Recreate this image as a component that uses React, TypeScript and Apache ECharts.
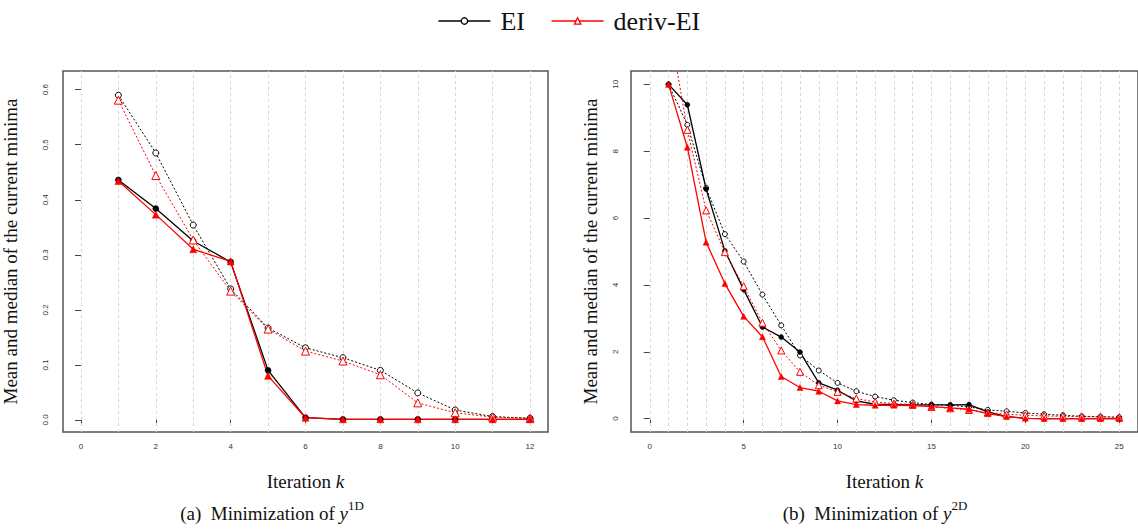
import React, { useEffect, useRef } from "react";
import * as echarts from "echarts";

// ---------- data ----------
const iter1D = [1, 2, 3, 4, 5, 6, 7, 8, 9, 10, 11, 12];
const eiMean1D = [0.59, 0.485, 0.354, 0.238, 0.167, 0.131, 0.113, 0.09, 0.049, 0.018, 0.006, 0.003];
const eiMedian1D = [0.436, 0.384, 0.325, 0.287, 0.09, 0.004, 0.001, 0.001, 0.001, 0.001, 0.001, 0.001];
const derivMean1D = [0.581, 0.444, 0.327, 0.234, 0.165, 0.125, 0.107, 0.082, 0.031, 0.013, 0.005, 0.003];
const derivMedian1D = [0.434, 0.373, 0.31, 0.288, 0.08, 0.004, 0.001, 0.001, 0.001, 0.001, 0.001, 0.001];

const iter2D = [1, 2, 3, 4, 5, 6, 7, 8, 9, 10, 11, 12, 13, 14, 15, 16, 17, 18, 19, 20, 21, 22, 23, 24, 25];
const eiMean2D = [10.0, 8.79, 6.9, 5.52, 4.7, 3.71, 2.79, 1.89, 1.44, 1.07, 0.82, 0.66, 0.55, 0.48, 0.42, 0.4, 0.35, 0.26, 0.22, 0.17, 0.13, 0.1, 0.07, 0.06, 0.04];
const eiMedian2D = [10.0, 9.39, 6.87, 5.02, 3.86, 2.74, 2.44, 1.99, 1.07, 0.85, 0.53, 0.43, 0.42, 0.41, 0.41, 0.41, 0.42, 0.2, 0.06, 0.01, 0, 0, 0, 0, 0];
const derivMean2D = [11.9, 8.64, 6.23, 4.98, 3.96, 2.87, 2.04, 1.4, 1.0, 0.8, 0.6, 0.5, 0.45, 0.42, 0.35, 0.31, 0.26, 0.18, 0.13, 0.1, 0.08, 0.07, 0.06, 0.05, 0.04];
const derivMedian2D = [10.0, 8.12, 5.28, 4.04, 3.06, 2.45, 1.26, 0.93, 0.82, 0.53, 0.42, 0.4, 0.4, 0.39, 0.36, 0.32, 0.28, 0.15, 0.06, 0.01, 0, 0, 0, 0, 0];

const xTicks1D = [0, 2, 4, 6, 8, 10, 12];
const xGrid1D = [0, 1, 2, 3, 4, 5, 6, 7, 8, 9, 10, 11, 12];
const yTicks1D = [0, 0.1, 0.2, 0.3, 0.4, 0.5, 0.6];
const xTicks2D = [0, 5, 10, 15, 20, 25];
const xGrid2D = [0, 1, 2, 3, 4, 5, 6, 7, 8, 9, 10, 11, 12, 13, 14, 15, 16, 17, 18, 19, 20, 21, 22, 23, 24, 25];
const yTicks2D = [0, 2, 4, 6, 8, 10];

const legendNames = ["EI", "deriv-EI"];
const yAxisTitle = "Mean and median of the current minima";
const xAxisTitle = "Iteration {i|k}";
const captionA = "(a)  Minimization of {i|y}{s|1D}";
const captionB = "(b)  Minimization of {i|y}{s|2D}";

const BLACK = "#000000";
const RED = "#ff0000";
const SERIF = "Liberation Serif";
const SANS = "Liberation Sans";

const pairs = (xs: number[], ys: number[]) => xs.map((x, i) => [x, ys[i]]);

function makeSeries(
  name: string,
  idx: number,
  xs: number[],
  ys: number[],
  color: string,
  dotted: boolean,
  symbol: string,
  size: number,
  open: boolean,
  grid?: number[]
) {
  const s: any = {
    type: "line",
    name,
    xAxisIndex: idx,
    yAxisIndex: idx,
    data: pairs(xs, ys),
    symbol,
    symbolSize: size,
    showAllSymbol: true,
    clip: true,
    z: 3,
    lineStyle: { color, width: dotted ? 1 : 1.3, type: dotted ? [2, 2] : "solid" },
    itemStyle: open
      ? { color: "#ffffff", borderColor: color, borderWidth: 1 }
      : { color, borderColor: color, borderWidth: 0.5 },
    emphasis: { disabled: true },
  };
  if (grid) {
    s.markLine = {
      silent: true,
      symbol: "none",
      z: 1,
      label: { show: false },
      lineStyle: { color: "#d6d6d6", type: [3, 3], width: 1 },
      data: grid.map((g) => ({ xAxis: g })),
      animation: false,
    };
  }
  return s;
}

const tickLabel = { fontFamily: SANS, fontSize: 8, color: "#333" };
const nameStyle = {
  fontFamily: SERIF,
  fontSize: 19,
  color: "#111",
  rich: { i: { fontFamily: SERIF, fontSize: 19, fontStyle: "italic", color: "#111" } },
};

function caption(text: string, x: number) {
  return {
    type: "text",
    x,
    y: 513,
    style: {
      text,
      fontFamily: SERIF,
      fontSize: 19,
      fill: "#111",
      align: "center",
      verticalAlign: "middle",
      rich: {
        i: { fontFamily: SERIF, fontSize: 19, fontStyle: "italic", fill: "#111" },
        s: { fontFamily: SERIF, fontSize: 13, fill: "#111", verticalAlign: "top", lineHeight: 28 },
      },
    },
  };
}

export default function App() {
  const ref = useRef<HTMLDivElement>(null);
  useEffect(() => {
    if (!ref.current) return;
    const chart = echarts.init(ref.current, undefined, { renderer: "svg" });
    const option: any = {
      animation: false,
      backgroundColor: "#ffffff",
      textStyle: { fontFamily: SERIF },
      legend: {
        top: 3,
        left: "center",
        itemWidth: 52,
        itemHeight: 8,
        itemGap: 26,
        selectedMode: false,
        textStyle: { fontFamily: SERIF, fontSize: 26, color: "#111", padding: [0, 0, 0, 5] },
        data: [
          {
            name: legendNames[0],
            itemStyle: { color: "#ffffff", borderColor: BLACK, borderWidth: 1.3 },
            lineStyle: { color: BLACK, type: "solid", width: 1.3 },
          },
          {
            name: legendNames[1],
            itemStyle: { color: "#ffffff", borderColor: RED, borderWidth: 1.3 },
            lineStyle: { color: RED, type: "solid", width: 1.3 },
          },
        ],
      },
      grid: [
        { left: 63, top: 71, width: 485, height: 361, show: true, borderColor: "#555", borderWidth: 1.5, backgroundColor: "transparent" },
        { left: 631, top: 71, width: 508, height: 361, show: true, borderColor: "#555", borderWidth: 1.5, backgroundColor: "transparent" },
      ],
      xAxis: [
        {
          type: "value",
          gridIndex: 0,
          min: -0.48,
          max: 12.48,
          axisLine: { show: false },
          splitLine: { show: false },
          axisTick: { show: true, customValues: xTicks1D, length: 6, lineStyle: { color: "#444" } },
          axisLabel: { customValues: xTicks1D, margin: 10, ...tickLabel },
          name: xAxisTitle,
          nameLocation: "middle",
          nameGap: 40,
          nameTextStyle: nameStyle,
        },
        {
          type: "value",
          gridIndex: 1,
          min: -1,
          max: 26,
          axisLine: { show: false },
          splitLine: { show: false },
          axisTick: { show: true, customValues: xTicks2D, length: 6, lineStyle: { color: "#444" } },
          axisLabel: { customValues: xTicks2D, margin: 10, ...tickLabel },
          name: xAxisTitle,
          nameLocation: "middle",
          nameGap: 40,
          nameTextStyle: nameStyle,
        },
      ],
      yAxis: [
        {
          type: "value",
          gridIndex: 0,
          min: -0.022,
          max: 0.634,
          axisLine: { show: false },
          splitLine: { show: false },
          axisTick: { show: true, customValues: yTicks1D, length: 6, lineStyle: { color: "#444" } },
          axisLabel: { customValues: yTicks1D, rotate: 90, margin: 14, formatter: (v: number) => v.toFixed(1), ...tickLabel },
          name: yAxisTitle,
          nameLocation: "middle",
          nameGap: 43,
          nameTextStyle: nameStyle,
        },
        {
          type: "value",
          gridIndex: 1,
          min: -0.4,
          max: 10.4,
          axisLine: { show: false },
          splitLine: { show: false },
          axisTick: { show: true, customValues: yTicks2D, length: 6, lineStyle: { color: "#444" } },
          axisLabel: { customValues: yTicks2D, rotate: 90, margin: 12, formatter: (v: number) => String(v), ...tickLabel },
          name: yAxisTitle,
          nameLocation: "middle",
          nameGap: 31,
          nameTextStyle: nameStyle,
        },
      ],
      series: [
        makeSeries(legendNames[0], 0, iter1D, eiMean1D, BLACK, true, "circle", 6, true, xGrid1D),
        makeSeries(legendNames[0], 0, iter1D, eiMedian1D, BLACK, false, "circle", 6, false),
        makeSeries(legendNames[1], 0, iter1D, derivMean1D, RED, true, "triangle", 8, true),
        makeSeries(legendNames[1], 0, iter1D, derivMedian1D, RED, false, "triangle", 7, false),
        makeSeries(legendNames[0], 1, iter2D, eiMean2D, BLACK, true, "circle", 5, true, xGrid2D),
        makeSeries(legendNames[0], 1, iter2D, eiMedian2D, BLACK, false, "circle", 5, false),
        makeSeries(legendNames[1], 1, iter2D, derivMean2D, RED, true, "triangle", 7, true),
        makeSeries(legendNames[1], 1, iter2D, derivMedian2D, RED, false, "triangle", 6, false),
      ],
      graphic: [caption(captionA, 272), caption(captionB, 875)],
    };
    chart.setOption(option);
    return () => chart.dispose();
  }, []);
  return (
    <div
      ref={ref}
      style={{ position: "absolute", left: 0, top: 0, width: 1138, height: 529, background: "#fff" }}
    />
  );
}
